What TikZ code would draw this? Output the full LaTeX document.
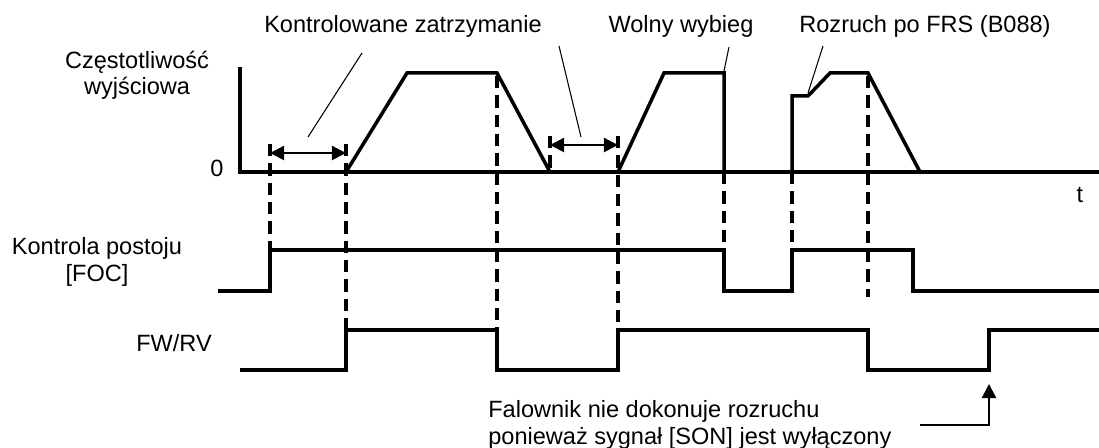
\documentclass[tikz,border=0pt]{standalone}
\usepackage{fontspec}
\setmainfont{Liberation Sans}
\usetikzlibrary{arrows.meta}

\begin{document}
\begin{tikzpicture}[x=0.02cm, y=-0.02cm,
  sig/.style={line width=2pt},
  guide/.style={line width=1.9pt, dash pattern=on 7pt off 4pt},
  callout/.style={line width=0.6pt},
  span/.style={line width=1.2pt,
               {Triangle[length=8pt, width=8pt]}-{Triangle[length=8pt, width=8pt]}},
  lbl/.style={font=\fontsize{13.4pt}{15pt}\selectfont, inner sep=0pt, align=center},
]
  \useasboundingbox (0,0) rectangle (1099,448);

  % OUTPUT FREQUENCY
  \node[lbl] (freq) at (137, 75) {Częstotliwość\\wyjściowa};
  \node[lbl, anchor=base] (zero) at (217, 177) {0};
  \node[lbl, anchor=base] (tlab) at (1080, 203) {t};
  \draw[sig] (240,67) -- (240,172) -- (1099,172);
  \draw[sig] (346,172) -- (407,73) -- (497,73) -- (550,172);
  \draw[sig] (618,172) -- (664,73) -- (724,73) -- (724,172);
  \draw[sig] (792,172) -- (792,96) -- (808,96) -- (830,73) -- (868,73) -- (920,172);

  % FOC
  \node[lbl] (foc) at (97, 262) {Kontrola postoju\\{[FOC]}};
  \draw[sig] (218,291) -- (270,291) -- (270,250) -- (724,250) -- (724,291)
    -- (792,291) -- (792,250) -- (913,250) -- (913,291) -- (1099,291);

  % FW/RV
  \node[lbl, anchor=base] (fwrv) at (174, 352) {FW/RV};
  \draw[sig] (240,370) -- (346,370) -- (346,330) -- (497,330) -- (497,370)
    -- (618,370) -- (618,330) -- (868,330) -- (868,370) -- (989,370)
    -- (989,330) -- (1099,330);

  % time marks
  \draw[guide] (270,144) -- (270,250);
  \draw[guide] (346,144) -- (346,330);
  \draw[guide] (497,76) -- (497,330);
  \draw[guide] (550,136) -- (550,172);
  \draw[guide] (618,136) -- (618,330);
  \draw[guide] (724,172) -- (724,250);
  \draw[guide] (792,172) -- (792,250);
  \draw[guide] (868,76) -- (868,297);

  \coordinate (s1a) at (270,153);
  \coordinate (s1b) at (346,153);
  \coordinate (s2a) at (550,145);
  \coordinate (s2b) at (618,145);
  \draw[span] (s1a) -- (s1b);
  \draw[span] (s2a) -- (s2b);

  % callouts
  \node[lbl, anchor=base] (stoplab) at (403, 33) {Kontrolowane zatrzymanie};
  \node[lbl, anchor=base] (coastlab) at (681, 33) {Wolny wybieg};
  \node[lbl, anchor=base] (restartlab) at (925, 33) {Rozruch po FRS (B088)};
  \coordinate (c1a) at (362,53);
  \coordinate (c1b) at (308,137);
  \coordinate (c2a) at (559,46);
  \coordinate (c2b) at (581,137);
  \coordinate (c3a) at (729,47);
  \coordinate (c3b) at (724,71);
  \coordinate (c4a) at (823,46);
  \coordinate (c4b) at (808,93);
  \draw[callout] (c1a) -- (c1b);
  \draw[callout] (c2a) -- (c2b);
  \draw[callout] (c3a) -- (c3b);
  \draw[callout] (c4a) -- (c4b);

  % SON note
  \node[lbl, anchor=west, align=left] (note) at (488, 425)
    {Falownik nie dokonuje rozruchu\\ponieważ sygnał [SON] jest wyłączony};
  \coordinate (n1) at (920,425);
  \coordinate (n2) at (989,384);
  \draw[callout, line width=1.2pt, -{Triangle[length=8pt, width=8pt]}]
    (n1) -| (n2);
\end{tikzpicture}
\end{document}
